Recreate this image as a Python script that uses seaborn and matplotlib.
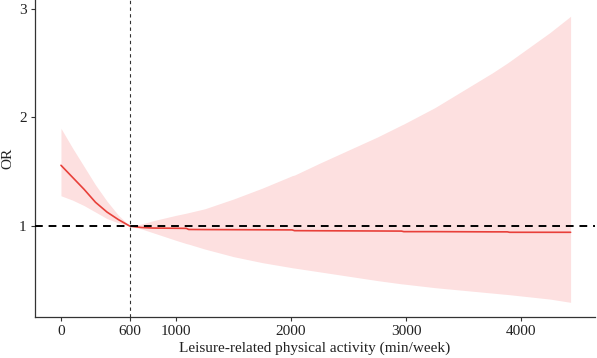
import matplotlib
matplotlib.use("Agg")
import matplotlib.pyplot as plt
import seaborn as sns
import pandas as pd

# Data
activity = [0, 100, 200, 300, 400, 500, 600, 700, 800, 1000, 1090, 1110, 1250, 1500,
            1750, 2000, 2010, 2030, 2250, 2500, 2750, 2960, 2980, 3250, 3500, 3750,
            3880, 3900, 4250, 4430]
odds_ratio = [1.56, 1.45, 1.34, 1.22, 1.13, 1.06, 1.00, 0.988, 0.983, 0.981, 0.980,
              0.970, 0.969, 0.968, 0.967, 0.966, 0.966, 0.959, 0.958, 0.957, 0.956,
              0.955, 0.950, 0.950, 0.949, 0.948, 0.948, 0.944, 0.944, 0.944]
ci_upper = [1.90, 1.72, 1.55, 1.38, 1.23, 1.10, 1.00, 1.02, 1.05, 1.10, 1.12,
            1.125, 1.16, 1.25, 1.35, 1.46, 1.465, 1.47, 1.58, 1.70, 1.82, 1.93,
            1.94, 2.09, 2.25, 2.41, 2.50, 2.515, 2.78, 2.93]
ci_lower = [1.28, 1.24, 1.19, 1.13, 1.07, 1.03, 1.00, 0.975, 0.94, 0.87, 0.84,
            0.835, 0.79, 0.72, 0.665, 0.62, 0.618, 0.615, 0.58, 0.54, 0.50, 0.47,
            0.468, 0.435, 0.41, 0.385, 0.372, 0.37, 0.33, 0.30]
x_ticks = [0, 600, 1000, 2000, 3000, 4000]
y_ticks = [1, 2, 3]
reference_x = 600
reference_or = 1

df = pd.DataFrame({"activity": activity, "OR": odds_ratio,
                   "lower": ci_lower, "upper": ci_upper})

sns.set_style("ticks")
plt.rcParams["font.family"] = ["Liberation Serif", "DejaVu Serif"]

fig = plt.figure(figsize=(5.97, 3.58), dpi=100)
ax = fig.add_axes([0.0586, 0.1145, 0.9384, 0.8855])

ax.fill_between(df["activity"], df["lower"], df["upper"], color="#fde0e0",
                linewidth=0, zorder=1)
sns.lineplot(data=df, x="activity", y="OR", ax=ax, color="#e8403a",
             linewidth=1.2, zorder=3)
ax.axhline(reference_or, color="black", linestyle=(0, (4, 3)), linewidth=1.4,
           zorder=4)
ax.axvline(reference_x, color="#333333", linestyle=(0, (3, 3)), linewidth=0.8,
           zorder=2)

ax.set_xlim(-226, 4644)
ax.set_ylim(0.165, 3.08)
ax.set_xticks(x_ticks)
ax.set_xticklabels([str(t) for t in x_ticks])
ax.set_yticks(y_ticks)
ax.set_yticklabels([str(t) for t in y_ticks])

for side in ["top", "right"]:
    ax.spines[side].set_visible(False)
for side in ["left", "bottom"]:
    ax.spines[side].set_color("#333333")
    ax.spines[side].set_linewidth(0.9)
ax.tick_params(axis="both", length=3, width=0.8, color="#333333",
               labelsize=11, labelcolor="#222222", pad=3)

ax.set_xlabel("Leisure-related physical activity (min/week)", fontsize=11,
              color="#222222", labelpad=2)
ax.set_ylabel("OR", fontsize=11, color="#222222", labelpad=3)

fig.savefig("out.png", dpi=100)
